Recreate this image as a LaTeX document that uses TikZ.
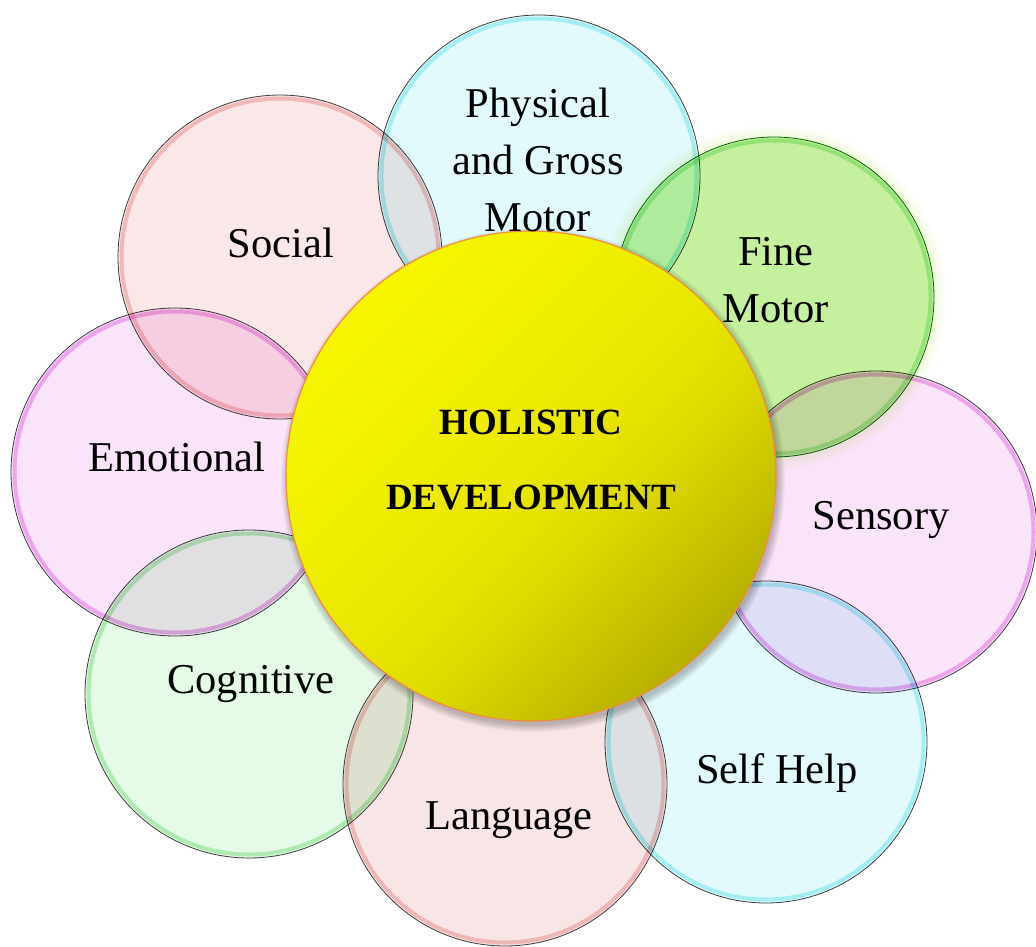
\documentclass[tikz,border=0pt]{standalone}
\usepackage{fontspec}
\setmainfont{Liberation Serif}
\usetikzlibrary{calc}
\definecolor{cyanF}{RGB}{227,250,252}
\definecolor{pinkF}{RGB}{250,231,231}
\definecolor{langF}{RGB}{248,229,229}
\definecolor{magF}{RGB}{250,228,250}
\definecolor{cogF}{RGB}{229,250,231}
\definecolor{fineF}{RGB}{197,240,158}
\definecolor{cyanA}{RGB}{0,215,225}
\definecolor{redA}{RGB}{225,70,70}
\definecolor{magA}{RGB}{205,0,205}
\definecolor{greenA}{RGB}{30,200,40}
\definecolor{rimC}{RGB}{60,60,60}
\definecolor{glowC}{RGB}{200,235,120}
\definecolor{coreEdge}{RGB}{240,140,60}
\pgfdeclareverticalshading{coreshade}{100bp}{%
  rgb(0bp)=(0.70,0.68,0);
  rgb(25bp)=(0.71,0.69,0);
  rgb(33bp)=(0.79,0.77,0);
  rgb(42bp)=(0.87,0.86,0);
  rgb(50bp)=(0.915,0.905,0);
  rgb(62bp)=(0.945,0.94,0);
  rgb(75bp)=(0.97,0.965,0);
  rgb(100bp)=(0.97,0.965,0)}
\tikzset{
  petal/.style={circle, inner sep=0pt, draw=rimC, line width=0.8pt, fill=#1},
  rim/.style={draw=#1, line width=4pt, opacity=0.28},
  lbl/.style={font=\fontsize{42.5}{57}\selectfont, align=center, inner sep=0pt},
  corelbl/.style={font=\fontsize{37}{75}\selectfont\bfseries, align=center, inner sep=0pt},
}
\begin{document}
\begin{tikzpicture}[x=1pt,y=-1pt]
\useasboundingbox (0,0) rectangle (1036,947);
\begin{scope}[blend mode=multiply]
  \node[petal=cyanF, minimum size=322pt] (phys) at (539,176) {};
  \node[petal=fineF, minimum size=320pt, draw=green!40!black] (fine) at (774,297) {};
  \node[petal=magF,  minimum size=322pt] (sens) at (876,532) {};
  \node[petal=cyanF, minimum size=322pt] (self) at (766,742) {};
  \node[petal=langF, minimum size=324pt] (lang) at (505,784) {};
  \node[petal=cogF,  minimum size=328pt] (cog)  at (249,694) {};
  \node[petal=magF,  minimum size=328pt] (emo)  at (175,472) {};
  \node[petal=pinkF, minimum size=324pt] (soc)  at (280,257) {};
  \draw[rim=cyanA]  (phys.center) circle[radius=157.5pt];
  \draw[rim=greenA] (fine.center) circle[radius=156.5pt];
  \draw[rim=magA]   (sens.center) circle[radius=157.5pt];
  \draw[rim=cyanA]  (self.center) circle[radius=157.5pt];
  \draw[rim=redA]   (lang.center) circle[radius=158.5pt];
  \draw[rim=greenA] (cog.center)  circle[radius=160.5pt];
  \draw[rim=magA]   (emo.center)  circle[radius=160.5pt];
  \draw[rim=redA]   (soc.center)  circle[radius=158.5pt];
  \foreach \k/\o in {1/0.22,2/0.18,3/0.15,4/0.12,5/0.09,6/0.07,7/0.05,8/0.03}
    \draw[glowC, line width=1.6pt, opacity=\o] (fine.center) circle[radius=160pt+\k*1.4pt];
\end{scope}
\coordinate (corec) at (531,476);
\foreach \k in {0,...,7}
  \fill[black, opacity=0.03] ([shift={(2,4)}]corec) circle[radius=245pt+\k*1pt];
\node[circle, inner sep=0pt, minimum size=490pt, draw=coreEdge, line width=1.2pt,
      shading=coreshade, shading angle=45] (core) at (corec) {};
\node[corelbl] (coret) at (531,460) {HOLISTIC\\DEVELOPMENT};
\node[lbl] (physt) at (538,160) {Physical\\and Gross\\Motor};
\node[lbl] (finet) at (776,280) {Fine\\Motor};
\node[lbl, anchor=base] (soct)  at (281,257) {Social};
\node[lbl, anchor=base] (emot)  at (177,471) {Emotional};
\node[lbl, anchor=base] (senst) at (881,529) {Sensory};
\node[lbl, anchor=base] (selft) at (777,783) {Self Help};
\node[lbl, anchor=base] (langt) at (509,829) {Language};
\node[lbl, anchor=base] (cogt)  at (251,693) {Cognitive};
\end{tikzpicture}
\end{document}
